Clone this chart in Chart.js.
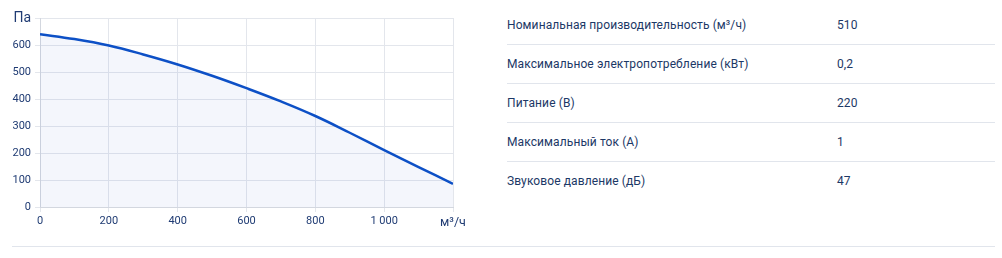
<!DOCTYPE html>
<html lang="ru">
<head>
<meta charset="utf-8">
<script src="https://cdn.jsdelivr.net/npm/chart.js@4"></script>
<style>
    html, body { margin: 0; padding: 0; background: #ffffff; }
    body { width: 1002px; height: 258px; position: relative; overflow: hidden; font-family: Roboto, sans-serif; }
    .chart-box { position: absolute; left: 0; top: 0; width: 480px; height: 240px; }
    .specs { position: absolute; left: 507px; top: 6px; width: 488px; }
    .row { height: 38px; border-bottom: 1px solid #e1e5ec; display: flex; align-items: center; font-size: 12px; letter-spacing: 0.1px; color: #1c3866; }
    .row:last-child { border-bottom: none; }
    .row .name { width: 330px; }
    .bottom-line { position: absolute; left: 12px; top: 246px; width: 983px; height: 1px; background: #e1e5ec; }
</style>
</head>
<body>
<div class="chart-box"><canvas id="curveChart" width="480" height="240"></canvas></div>
<div class="specs" id="specs"></div>
<div class="bottom-line"></div>
<script>
// curve values
const flowValues = [0, 100, 200, 300, 400, 500, 600, 700, 800, 900, 1000, 1100, 1200];
const pressureValues = [640, 622, 598, 565, 528, 486, 440, 391, 337, 275, 211, 148, 86];

const specNames = [
    'Номинальная производительность (м³/ч)',
    'Максимальное электропотребление (кВт)',
    'Питание (В)',
    'Максимальный ток (А)',
    'Звуковое давление (дБ)'
];
const specValues = ['510', '0,2', '220', '1', '47'];

const specs = document.getElementById('specs');
specNames.forEach((name, i) => {
    const row = document.createElement('div');
    row.className = 'row';
    row.innerHTML = '<span class="name"></span><span class="val"></span>';
    row.querySelector('.name').textContent = name;
    row.querySelector('.val').textContent = specValues[i];
    specs.appendChild(row);
});

const tickColor = '#1f3b73';
const gridColor = '#e3e6ec';

new Chart(document.getElementById('curveChart'), {
    type: 'line',
    data: {
        datasets: [{
            data: flowValues.map((x, i) => ({ x: x, y: pressureValues[i] })),
            borderColor: '#0d50c6',
            backgroundColor: 'rgba(30, 80, 190, 0.05)',
            borderWidth: 2.5,
            fill: 'origin',
            tension: 0.4,
            pointRadius: 0
        }]
    },
    options: {
        responsive: false,
        animation: false,
        layout: { padding: { top: 18, right: 27, bottom: 0, left: 0 } },
        plugins: { legend: { display: false }, tooltip: { enabled: false } },
        scales: {
            x: {
                type: 'linear',
                min: 0,
                max: 1200,
                afterFit: (scale) => { scale.height = 33; },
                grid: { color: gridColor, tickLength: 5 },
                border: { color: '#d3d7df' },
                ticks: {
                    stepSize: 200,
                    color: tickColor,
                    padding: 3,
                    maxRotation: 0,
                    font: (ctx) => ({ family: 'Roboto', size: ctx.tick && ctx.tick.value === 1200 ? 12.5 : 11 }),
                    callback: function(value) {
                        if (value === 1200) return 'м³/ч';
                        return value >= 1000 ? '1 000' : String(value);
                    }
                }
            },
            y: {
                min: 0,
                max: 700,
                afterFit: (scale) => { scale.width = 40; },
                grid: { color: gridColor, tickLength: 5 },
                border: { color: '#d3d7df' },
                ticks: {
                    stepSize: 100,
                    color: tickColor,
                    padding: 4,
                    font: (ctx) => ({ family: 'Roboto', size: ctx.tick && ctx.tick.value === 700 ? 14 : 11 }),
                    callback: function(value) {
                        return value === 700 ? 'Па' : String(value);
                    }
                }
            }
        }
    }
});
</script>
</body>
</html>
